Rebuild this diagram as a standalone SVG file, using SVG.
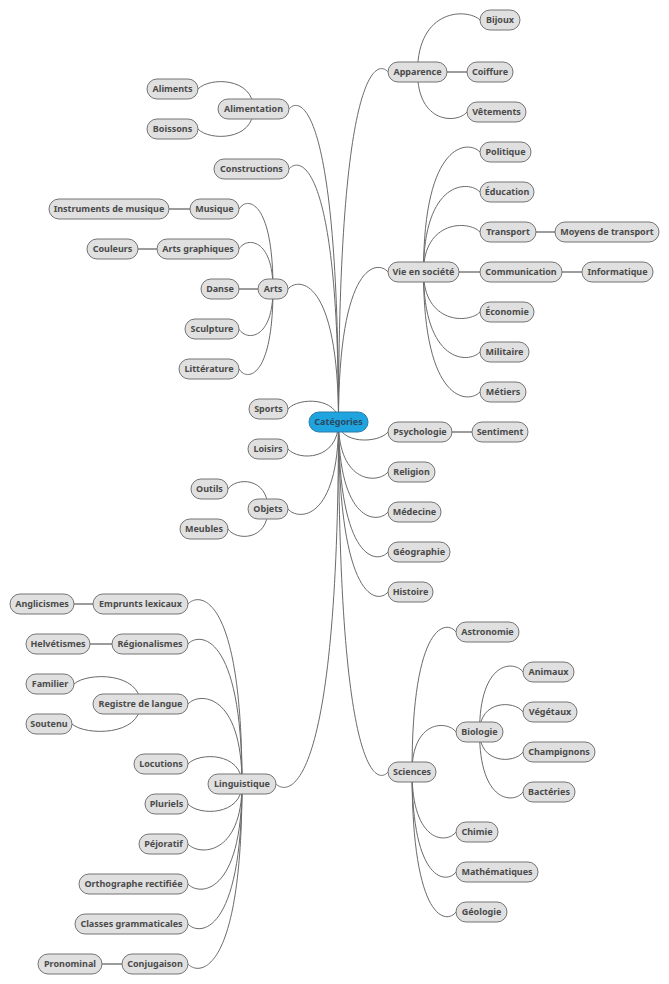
<svg xmlns="http://www.w3.org/2000/svg" width="669" height="984" viewBox="0 0 669 984">
<style>
.c{fill:none;stroke:#6a6a6a;stroke-width:1}
.s{fill:none;stroke:#9c9c9c;stroke-width:2}
.n rect{fill:#e0e0e0;stroke:#747474;stroke-width:1}
.n text{font-family:"Noto Sans","Open Sans","Liberation Sans",sans-serif;font-size:9px;font-weight:bold;fill:#4a4a4a;text-anchor:middle}
#n-root rect{fill:#1fa4df;stroke:#2a7daa}
#n-root text{fill:#2b4a60}
</style>
<rect width="669" height="984" fill="#ffffff"/>
<g id="connectors">
<!-- root right -->
<path class="c" d="M338.5,422 C338.5,60 378.1,60 388,72"/>
<path class="c" d="M338.5,422 C338.5,260 378.1,260 388,272"/>
<path class="c" d="M338.5,422 C338.5,444 378.1,444 388,432"/>
<path class="c" d="M338.5,422 C338.5,484 378.1,484 388,472"/>
<path class="c" d="M338.5,422 C338.5,524 378.1,524 388,512"/>
<path class="c" d="M338.5,422 C338.5,564 378.1,564 388,552"/>
<path class="c" d="M338.5,422 C338.5,604 378.1,604 388,592"/>
<path class="c" d="M338.5,422 C338.5,784 378.1,784 388,772"/>
<!-- root left -->
<path class="c" d="M338.5,422 C338.5,97 298.9,97 289,109"/>
<path class="c" d="M338.5,422 C338.5,157 298.9,157 289,169"/>
<path class="c" d="M338.5,422 C338.5,277 298.1,277 288,289"/>
<path class="c" d="M338.5,422 C338.5,397 298.1,397 288,409"/>
<path class="c" d="M338.5,422 C338.5,461 298.1,461 288,449"/>
<path class="c" d="M338.5,422 C338.5,521 298.1,521 288,509"/>
<path class="c" d="M338.5,422 C338.5,796 288.5,796 276,784"/>
<!-- Apparence -->
<path class="c" d="M417.5,72 C417.5,8 467.5,8 480,20"/>
<path class="s" d="M447,72 H467"/>
<path class="c" d="M417.5,72 C417.5,124 457.1,124 467,112"/>
<!-- Vie en société -->
<path class="c" d="M423.5,272 C423.5,140 468.7,140 480,152"/>
<path class="c" d="M423.5,272 C423.5,180 468.7,180 480,192"/>
<path class="c" d="M423.5,272 C423.5,220 468.7,220 480,232"/>
<path class="s" d="M459,272 H480"/>
<path class="c" d="M423.5,272 C423.5,324 468.7,324 480,312"/>
<path class="c" d="M423.5,272 C423.5,364 468.7,364 480,352"/>
<path class="c" d="M423.5,272 C423.5,404 468.7,404 480,392"/>
<path class="s" d="M536,232 H555"/>
<path class="s" d="M562,272 H582"/>
<path class="s" d="M452,432 H472"/>
<!-- Sciences -->
<path class="c" d="M412,772 C412,620 447.2,620 456,632"/>
<path class="c" d="M412,772 C412,720 447.2,720 456,732"/>
<path class="c" d="M412,772 C412,844 447.2,844 456,832"/>
<path class="c" d="M412,772 C412,884 447.2,884 456,872"/>
<path class="c" d="M412,772 C412,924 447.2,924 456,912"/>
<!-- Biologie -->
<path class="c" d="M479.5,732 C479.5,660 514.3,660 523,672"/>
<path class="c" d="M479.5,732 C479.5,700 514.3,700 523,712"/>
<path class="c" d="M479.5,732 C479.5,764 514.3,764 523,752"/>
<path class="c" d="M479.5,732 C479.5,804 514.3,804 523,792"/>
<!-- Alimentation -->
<path class="c" d="M253.5,109 C253.5,77 209.1,77 198,89"/>
<path class="c" d="M253.5,109 C253.5,141 209.1,141 198,129"/>
<!-- Arts -->
<path class="c" d="M273,289 C273,197 245.8,197 239,209"/>
<path class="c" d="M273,289 C273,237 245.8,237 239,249"/>
<path class="s" d="M239,289 H258"/>
<path class="c" d="M273,289 C273,341 245.8,341 239,329"/>
<path class="c" d="M273,289 C273,381 245.8,381 239,369"/>
<path class="s" d="M169,209 H190"/>
<path class="s" d="M138,249 H157"/>
<!-- Objets -->
<path class="c" d="M268,509 C268,477 236,477 228,489"/>
<path class="c" d="M268,509 C268,541 236,541 228,529"/>
<!-- Linguistique -->
<path class="c" d="M242,784 C242,592 198.8,592 188,604"/>
<path class="c" d="M242,784 C242,632 198.8,632 188,644"/>
<path class="c" d="M242,784 C242,692 198.8,692 188,704"/>
<path class="c" d="M242,784 C242,752 198.8,752 188,764"/>
<path class="c" d="M242,784 C242,816 198.8,816 188,804"/>
<path class="c" d="M242,784 C242,856 198.8,856 188,844"/>
<path class="c" d="M242,784 C242,896 198.8,896 188,884"/>
<path class="c" d="M242,784 C242,936 198.8,936 188,924"/>
<path class="c" d="M242,784 C242,976 198.8,976 188,964"/>
<path class="s" d="M74,604 H93"/>
<path class="s" d="M90,644 H112"/>
<path class="s" d="M102,964 H122"/>
<!-- Registre de langue -->
<path class="c" d="M140.5,704 C140.5,672 87.3,672 74,684"/>
<path class="c" d="M140.5,704 C140.5,736 85.7,736 72,724"/>
</g>
<g id="nodes">
<g class="n" id="n-root"><rect x="309" y="412" width="59" height="20" rx="10"/><text x="338.5" y="425">Catégories</text></g>

<g class="n" id="n-apparence"><rect x="388" y="62" width="59" height="20" rx="10"/><text x="417.5" y="75">Apparence</text></g>
<g class="n" id="n-bijoux"><rect x="480" y="10" width="40" height="20" rx="10"/><text x="500" y="23">Bijoux</text></g>
<g class="n" id="n-coiffure"><rect x="467" y="62" width="46" height="20" rx="10"/><text x="490" y="75">Coiffure</text></g>
<g class="n" id="n-vetements"><rect x="467" y="102" width="59" height="20" rx="10"/><text x="496.5" y="115">Vêtements</text></g>

<g class="n" id="n-vie"><rect x="388" y="262" width="71" height="20" rx="10"/><text x="423.5" y="275">Vie en société</text></g>
<g class="n" id="n-politique"><rect x="480" y="142" width="51" height="20" rx="10"/><text x="505.5" y="155">Politique</text></g>
<g class="n" id="n-education"><rect x="480" y="182" width="54" height="20" rx="10"/><text x="507" y="195">Éducation</text></g>
<g class="n" id="n-transport"><rect x="480" y="222" width="56" height="20" rx="10"/><text x="508" y="235">Transport</text></g>
<g class="n" id="n-moyens"><rect x="555" y="222" width="104" height="20" rx="10"/><text x="607" y="235">Moyens de transport</text></g>
<g class="n" id="n-communication"><rect x="480" y="262" width="82" height="20" rx="10"/><text x="521" y="275">Communication</text></g>
<g class="n" id="n-informatique"><rect x="582" y="262" width="71" height="20" rx="10"/><text x="617.5" y="275">Informatique</text></g>
<g class="n" id="n-economie"><rect x="480" y="302" width="54" height="20" rx="10"/><text x="507" y="315">Économie</text></g>
<g class="n" id="n-militaire"><rect x="480" y="342" width="49" height="20" rx="10"/><text x="504.5" y="355">Militaire</text></g>
<g class="n" id="n-metiers"><rect x="480" y="382" width="46" height="20" rx="10"/><text x="503" y="395">Métiers</text></g>

<g class="n" id="n-psychologie"><rect x="388" y="422" width="64" height="20" rx="10"/><text x="420" y="435">Psychologie</text></g>
<g class="n" id="n-sentiment"><rect x="472" y="422" width="56" height="20" rx="10"/><text x="500" y="435">Sentiment</text></g>
<g class="n" id="n-religion"><rect x="388" y="462" width="47" height="20" rx="10"/><text x="411.5" y="475">Religion</text></g>
<g class="n" id="n-medecine"><rect x="388" y="502" width="53" height="20" rx="10"/><text x="414.5" y="515">Médecine</text></g>
<g class="n" id="n-geographie"><rect x="388" y="542" width="62" height="20" rx="10"/><text x="419" y="555">Géographie</text></g>
<g class="n" id="n-histoire"><rect x="388" y="582" width="45" height="20" rx="10"/><text x="410.5" y="595">Histoire</text></g>

<g class="n" id="n-sciences"><rect x="388" y="762" width="48" height="20" rx="10"/><text x="412" y="775">Sciences</text></g>
<g class="n" id="n-astronomie"><rect x="456" y="622" width="63" height="20" rx="10"/><text x="487.5" y="635">Astronomie</text></g>
<g class="n" id="n-biologie"><rect x="456" y="722" width="47" height="20" rx="10"/><text x="479.5" y="735">Biologie</text></g>
<g class="n" id="n-animaux"><rect x="523" y="662" width="51" height="20" rx="10"/><text x="548.5" y="675">Animaux</text></g>
<g class="n" id="n-vegetaux"><rect x="523" y="702" width="54" height="20" rx="10"/><text x="550" y="715">Végétaux</text></g>
<g class="n" id="n-champignons"><rect x="523" y="742" width="72" height="20" rx="10"/><text x="559" y="755">Champignons</text></g>
<g class="n" id="n-bacteries"><rect x="523" y="782" width="52" height="20" rx="10"/><text x="549" y="795">Bactéries</text></g>
<g class="n" id="n-chimie"><rect x="456" y="822" width="42" height="20" rx="10"/><text x="477" y="835">Chimie</text></g>
<g class="n" id="n-mathematiques"><rect x="456" y="862" width="82" height="20" rx="10"/><text x="497" y="875">Mathématiques</text></g>
<g class="n" id="n-geologie"><rect x="456" y="902" width="51" height="20" rx="10"/><text x="481.5" y="915">Géologie</text></g>

<g class="n" id="n-alimentation"><rect x="218" y="99" width="71" height="20" rx="10"/><text x="253.5" y="112">Alimentation</text></g>
<g class="n" id="n-aliments"><rect x="147" y="79" width="51" height="20" rx="10"/><text x="172.5" y="92">Aliments</text></g>
<g class="n" id="n-boissons"><rect x="147" y="119" width="51" height="20" rx="10"/><text x="172.5" y="132">Boissons</text></g>
<g class="n" id="n-constructions"><rect x="214" y="159" width="75" height="20" rx="10"/><text x="251.5" y="172">Constructions</text></g>

<g class="n" id="n-arts"><rect x="258" y="279" width="30" height="20" rx="10"/><text x="273" y="292">Arts</text></g>
<g class="n" id="n-musique"><rect x="190" y="199" width="49" height="20" rx="10"/><text x="214.5" y="212">Musique</text></g>
<g class="n" id="n-instruments"><rect x="49" y="199" width="120" height="20" rx="10"/><text x="109" y="212">Instruments de musique</text></g>
<g class="n" id="n-artsgraphiques"><rect x="157" y="239" width="82" height="20" rx="10"/><text x="198" y="252">Arts graphiques</text></g>
<g class="n" id="n-couleurs"><rect x="87" y="239" width="51" height="20" rx="10"/><text x="112.5" y="252">Couleurs</text></g>
<g class="n" id="n-danse"><rect x="201" y="279" width="38" height="20" rx="10"/><text x="220" y="292">Danse</text></g>
<g class="n" id="n-sculpture"><rect x="185" y="319" width="54" height="20" rx="10"/><text x="212" y="332">Sculpture</text></g>
<g class="n" id="n-litterature"><rect x="179" y="359" width="60" height="20" rx="10"/><text x="209" y="372">Littérature</text></g>

<g class="n" id="n-sports"><rect x="249" y="399" width="39" height="20" rx="10"/><text x="268.5" y="412">Sports</text></g>
<g class="n" id="n-loisirs"><rect x="248" y="439" width="40" height="20" rx="10"/><text x="268" y="452">Loisirs</text></g>
<g class="n" id="n-objets"><rect x="248" y="499" width="40" height="20" rx="10"/><text x="268" y="512">Objets</text></g>
<g class="n" id="n-outils"><rect x="191" y="479" width="37" height="20" rx="10"/><text x="209.5" y="492">Outils</text></g>
<g class="n" id="n-meubles"><rect x="180" y="519" width="48" height="20" rx="10"/><text x="204" y="532">Meubles</text></g>

<g class="n" id="n-linguistique"><rect x="208" y="774" width="68" height="20" rx="10"/><text x="242" y="787">Linguistique</text></g>
<g class="n" id="n-emprunts"><rect x="93" y="594" width="95" height="20" rx="10"/><text x="140.5" y="607">Emprunts lexicaux</text></g>
<g class="n" id="n-anglicismes"><rect x="10" y="594" width="64" height="20" rx="10"/><text x="42" y="607">Anglicismes</text></g>
<g class="n" id="n-regionalismes"><rect x="112" y="634" width="76" height="20" rx="10"/><text x="150" y="647">Régionalismes</text></g>
<g class="n" id="n-helvetismes"><rect x="26" y="634" width="64" height="20" rx="10"/><text x="58" y="647">Helvétismes</text></g>
<g class="n" id="n-registre"><rect x="93" y="694" width="95" height="20" rx="10"/><text x="140.5" y="707">Registre de langue</text></g>
<g class="n" id="n-familier"><rect x="26" y="674" width="48" height="20" rx="10"/><text x="50" y="687">Familier</text></g>
<g class="n" id="n-soutenu"><rect x="26" y="714" width="46" height="20" rx="10"/><text x="49" y="727">Soutenu</text></g>
<g class="n" id="n-locutions"><rect x="134" y="754" width="54" height="20" rx="10"/><text x="161" y="767">Locutions</text></g>
<g class="n" id="n-pluriels"><rect x="145" y="794" width="43" height="20" rx="10"/><text x="166.5" y="807">Pluriels</text></g>
<g class="n" id="n-pejoratif"><rect x="139" y="834" width="49" height="20" rx="10"/><text x="163.5" y="847">Péjoratif</text></g>
<g class="n" id="n-orthographe"><rect x="79" y="874" width="109" height="20" rx="10"/><text x="133.5" y="887">Orthographe rectifiée</text></g>
<g class="n" id="n-classes"><rect x="75" y="914" width="113" height="20" rx="10"/><text x="131.5" y="927">Classes grammaticales</text></g>
<g class="n" id="n-conjugaison"><rect x="122" y="954" width="66" height="20" rx="10"/><text x="155" y="967">Conjugaison</text></g>
<g class="n" id="n-pronominal"><rect x="38" y="954" width="64" height="20" rx="10"/><text x="70" y="967">Pronominal</text></g>
</g>
</svg>
